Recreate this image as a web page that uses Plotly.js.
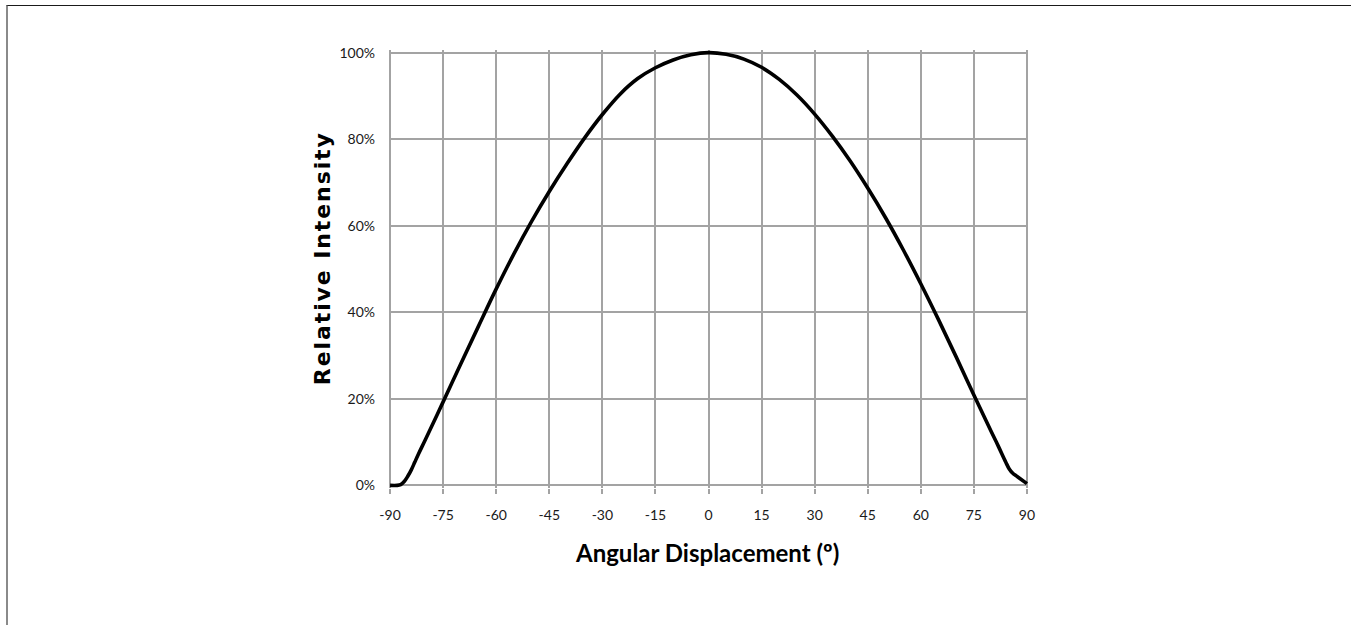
<!DOCTYPE html>
<html>
<head>
<meta charset="utf-8">
<script src="https://cdn.plot.ly/plotly-3.0.1.min.js"></script>
<style>
html,body{margin:0;padding:0;background:#fff;}
#wrap{position:relative;width:1351px;height:625px;}
#chart{width:1351px;height:625px;}
#frame{position:absolute;left:6px;top:5px;width:1343px;height:640px;border-top:1px solid #1a1a1a;border-left:2px solid #8a8a8a;border-right:1px solid #444;pointer-events:none;}
.annotation[data-index="1"] text{letter-spacing:1.9px;}
</style>
</head>
<body>
<div id="wrap"><div id="chart"></div><div id="frame"></div></div>
<script>
// Angular displacement (degrees)
const angles = [-90,-88,-87,-86,-85,-84,-83,-82,-80,-75,-70,-65,-60,-55,-50,-45,-40,-35,-30,-25,-20,-15,-10,-5,0,5,10,15,20,25,30,35,40,45,50,55,60,65,70,75,80,82,84,85,86,87,88,90];
// Relative intensity (%)
const intensity = [0,0,0.2,0.9,2.1,3.6,5.4,7.2,10.6,19.3,28.1,36.8,45.4,53.5,61.0,67.9,74.3,80.3,85.7,90.4,94.0,96.5,98.3,99.5,100,99.6,98.5,96.6,93.8,90.2,85.8,80.7,75.0,68.7,61.9,54.5,46.6,38.3,29.7,20.9,12.3,8.9,5.4,3.8,2.8,2.2,1.6,0.4];
const xTicks = [-90,-75,-60,-45,-30,-15,0,15,30,45,60,75,90];
const yTicks = [0,20,40,60,80,100];
const xTitle = 'Angular Displacement (º)';
const yTitle = 'Relative Intensity';

const tickFont = {family:"Lato, sans-serif", size:14, color:'#1a1a1a'};
const gridCol = '#a3a3a3';

const trace = {
  x: angles, y: intensity, type:'scatter', mode:'lines',
  line:{color:'#000', width:3.6, shape:'spline', smoothing:1},
  hoverinfo:'skip'
};

const layout = {
  width:1351, height:625,
  margin:{l:389, r:323, t:50, b:137, pad:0},
  paper_bgcolor:'#fff', plot_bgcolor:'#fff',
  showlegend:false,
  xaxis:{
    range:[-90.3,90.3], tickvals:xTicks, ticktext:xTicks.map(String),
    showgrid:true, gridcolor:gridCol, gridwidth:2,
    zeroline:false, showline:false,
    ticks:'outside', ticklen:5, tickcolor:gridCol, tickwidth:2, ticklabelstandoff:9,
    tickfont:tickFont, fixedrange:true
  },
  yaxis:{
    range:[-0.6,100.6], tickvals:yTicks, ticktext:yTicks.map(v=>v+'%'),
    showgrid:true, gridcolor:gridCol, gridwidth:2,
    zeroline:false, showline:false, ticks:'', ticklabelstandoff:13,
    tickfont:tickFont, fixedrange:true
  },
  annotations:[
    {text:'<b>'+xTitle+'</b>', xref:'paper', yref:'paper', x:0.497, y:-0.148, xanchor:'center', yanchor:'middle', showarrow:false,
     font:{family:"Lato, sans-serif", size:24, color:'#000'}},
    {text:'<b>'+yTitle+'</b>', xref:'paper', yref:'paper', x:-0.104, y:0.524, xanchor:'center', yanchor:'middle', showarrow:false, textangle:-90,
     font:{family:"'DejaVu Sans', sans-serif", size:22, color:'#000'}}
  ]
};

Plotly.newPlot('chart', [trace], layout, {displayModeBar:false, staticPlot:true});
</script>
</body>
</html>
